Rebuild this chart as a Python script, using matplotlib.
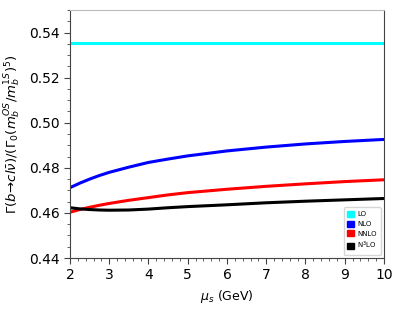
import matplotlib
matplotlib.use('Agg')
import matplotlib.pyplot as plt
from matplotlib.patches import Patch
from matplotlib.ticker import MultipleLocator

# scale mu_s (GeV)
mu = [2.0, 2.25, 2.5, 2.75, 3.0, 3.5, 4.0, 4.5, 5.0, 6.0, 7.0, 8.0, 9.0, 10.0]

lo = [0.5355] * len(mu)
nlo = [0.4712, 0.4732, 0.4750, 0.4766, 0.4780, 0.4803, 0.4824, 0.4839, 0.4853, 0.4875, 0.4892, 0.4906, 0.4917, 0.4926]
nnlo = [0.4603, 0.4615, 0.4625, 0.4634, 0.4642, 0.4656, 0.4668, 0.4680, 0.4690, 0.4705, 0.4718, 0.4729, 0.4739, 0.4747]
n3lo = [0.4623, 0.4618, 0.4615, 0.4613, 0.4612, 0.4613, 0.4617, 0.4623, 0.4628, 0.4636, 0.4645, 0.4652, 0.4658, 0.4664]

labels = ["LO", "NLO", "NNLO", r"N$^3$LO"]
colors = ["cyan", "blue", "red", "black"]

fig = plt.figure(figsize=(3.99, 3.10), dpi=100)
ax = fig.add_axes([0.1754, 0.1677, 0.787, 0.800])

for y, c in zip([lo, nlo, nnlo, n3lo], colors):
    ax.plot(mu, y, color=c, linewidth=2.2)

ax.set_xlim(2, 10)
ax.set_ylim(0.44, 0.55)
ax.xaxis.set_major_locator(MultipleLocator(1))
ax.xaxis.set_minor_locator(MultipleLocator(0.2))
ax.yaxis.set_major_locator(MultipleLocator(0.02))
ax.yaxis.set_minor_locator(MultipleLocator(0.005))
ax.tick_params(which='both', top=False, right=False, labelsize=10, color='#444444')
ax.tick_params(which='major', length=4)
ax.tick_params(which='minor', length=2)

ax.spines['top'].set_color('#bbbbbb')
for s in ['left', 'bottom', 'right']:
    ax.spines[s].set_color('#444444')

ax.set_xlabel(r"$\mu_s$ (GeV)", fontsize=9)
ax.set_ylabel(r"$\Gamma(b\!\to\! c l\bar{\nu})/(\Gamma_0(m_b^{OS}/m_b^{1S})^5)$", fontsize=9.5)

handles = [Patch(facecolor=c, edgecolor=c) for c in colors]
ax.legend(handles, labels, loc='lower right', fontsize=5, handlelength=1.0,
          handleheight=1.0, borderpad=0.5, labelspacing=0.45, handletextpad=0.5)

fig.savefig("out.png", dpi=100)
